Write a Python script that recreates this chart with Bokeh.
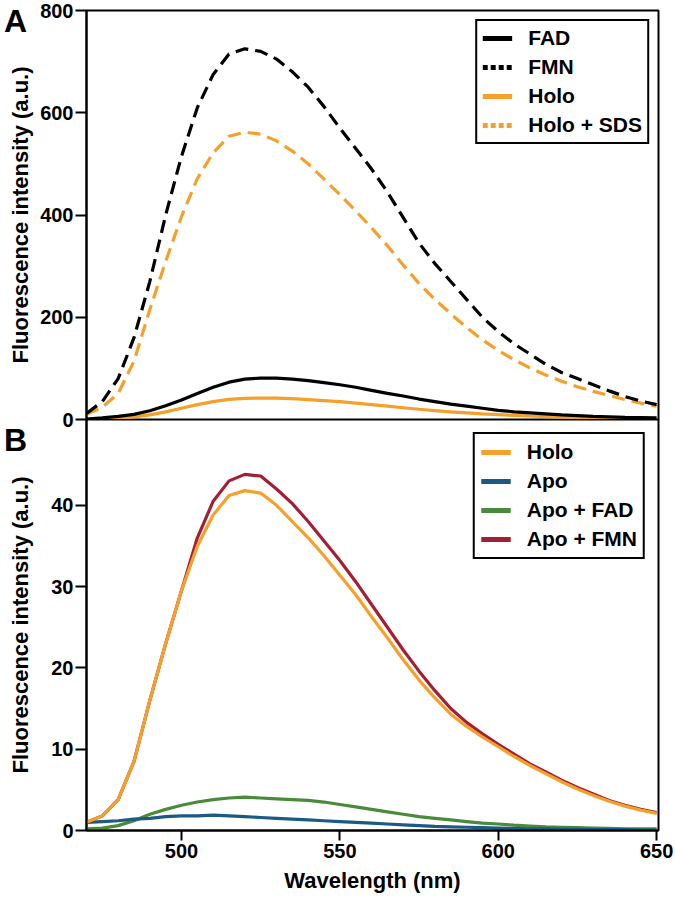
from bokeh.plotting import figure
from bokeh.models import Range1d, FixedTicker, Legend, LegendItem, Div
from bokeh.layouts import column
from bokeh.embed import file_html
from bokeh.resources import INLINE

wavelength = [470, 475, 480, 485, 490, 495, 500, 505, 510, 515, 520, 525, 530, 535, 540,
              545, 550, 555, 560, 565, 570, 575, 580, 585, 590, 595, 600, 605, 610, 615,
              620, 625, 630, 635, 640, 645, 650]

# Panel A
fad_a = [1, 3, 6, 10, 17, 27, 38, 51, 63, 73, 79, 81, 81, 79, 76, 72, 68, 63, 57, 51,
         46, 40, 35, 30, 26, 22, 18, 15, 13, 11, 9, 7.5, 6, 5, 4, 3.5, 3]
fmn_a = [12, 35, 80, 160, 270, 400, 515, 610, 675, 715, 725, 720, 705, 680, 650, 612,
         570, 530, 490, 445, 395, 345, 305, 270, 235, 200, 172, 148, 128, 108, 92, 80,
         68, 56, 45, 36, 29]
holo_a = [0.5, 1.5, 3, 5, 9, 15, 22, 29, 35, 39.5, 41.5, 42, 42, 41, 39, 37, 35, 32, 29,
          26, 23, 20, 17.5, 15, 13, 11, 9.5, 8, 6.8, 5.8, 4.8, 4, 3.3, 2.7, 2.2, 1.8, 1.4]
holo_sds_a = [10, 24, 51, 114, 215, 309, 397, 471, 522, 554, 562, 558, 545, 525, 500,
              470, 440, 408, 375, 340, 302, 266, 235, 207, 180, 156, 135, 117, 101, 87,
              75, 64, 55, 47, 39, 32, 26]

# Panel B
holo_b = [1.0, 1.8, 3.8, 8.5, 16, 23, 29.5, 35, 38.8, 41.2, 41.8, 41.5, 40, 38, 36, 33.8,
          31.4, 29, 26.3, 23.7, 21, 18.5, 16.3, 14.3, 12.8, 11.5, 10.3, 9.1, 8.0, 7.0,
          6.0, 5.1, 4.3, 3.6, 3.0, 2.5, 2.1]
apo_b = [1.0, 1.1, 1.2, 1.4, 1.5, 1.7, 1.8, 1.8, 1.9, 1.8, 1.7, 1.6, 1.5, 1.4, 1.3, 1.2,
         1.1, 1.0, 0.9, 0.8, 0.7, 0.6, 0.5, 0.45, 0.4, 0.35, 0.3, 0.25, 0.2, 0.2, 0.15,
         0.15, 0.1, 0.1, 0.1, 0.05, 0.05]
apo_fad_b = [0.2, 0.3, 0.6, 1.2, 2.0, 2.6, 3.1, 3.5, 3.8, 4.0, 4.1, 4.0, 3.9, 3.8, 3.7,
             3.5, 3.2, 2.9, 2.6, 2.3, 2.0, 1.7, 1.5, 1.3, 1.1, 0.9, 0.8, 0.65, 0.55, 0.45,
             0.4, 0.35, 0.3, 0.25, 0.2, 0.2, 0.2]
apo_fmn_b = [1.0, 1.8, 3.8, 8.5, 16, 23, 29.5, 36, 40.5, 43, 43.8, 43.6, 42, 40.2, 38,
             35.6, 33.2, 30.6, 27.8, 25, 22.2, 19.6, 17.2, 15, 13.3, 11.9, 10.6, 9.4, 8.2,
             7.2, 6.2, 5.3, 4.5, 3.7, 3.1, 2.6, 2.2]

ticks_a = [0, 200, 400, 600, 800]
ticks_b = [0, 10, 20, 30, 40]
ticks_x = [500, 550, 600, 650]

labels_a = ["FAD", "FMN", "Holo", "Holo + SDS"]
labels_b = ["Holo", "Apo", "Apo + FAD", "Apo + FMN"]
panel_tags = ["A", "B"]

BLACK = "#000000"
ORANGE = "#F5A02A"
BLUE = "#1C5A84"
GREEN = "#4A8B3B"
RED = "#A21F35"
FONT = "Liberation Sans"
XR = (470, 650.6)
LW = 3.2


def style(p, yticks, standoff):
    p.grid.visible = False
    p.outline_line_color = BLACK
    p.outline_line_width = 2
    p.outline_line_alpha = 1
    for ax in p.yaxis:
        ax.ticker = FixedTicker(ticks=yticks)
        ax.major_tick_out = 11
        ax.major_tick_in = 0
        ax.minor_tick_line_color = None
        ax.axis_line_width = 2
        ax.major_tick_line_width = 2
        ax.major_label_text_font = FONT
        ax.major_label_text_font_style = "bold"
        ax.major_label_text_font_size = "20px"
        ax.major_label_text_color = BLACK
        ax.major_label_standoff = 2
        ax.axis_label = "Fluorescence intensity (a.u.)"
        ax.axis_label_text_font = FONT
        ax.axis_label_text_font_style = "bold"
        ax.axis_label_text_font_size = "22px"
        ax.axis_label_text_color = BLACK
        ax.axis_label_standoff = standoff


def make_legend(p, entries, margin, padding):
    p.extra_y_ranges = {"hidden": Range1d(1e6, 2e6)}
    items = []
    for lab, vals, col, dash in entries:
        r = p.line(wavelength, vals, y_range_name="hidden", line_color=col,
                   line_width=5, line_dash=dash)
        items.append(LegendItem(label=lab, renderers=[r]))
    leg = Legend(items=items, location="top_right")
    leg.label_text_font = FONT
    leg.label_text_font_style = "bold"
    leg.label_text_font_size = "21px"
    leg.label_text_color = BLACK
    leg.label_standoff = 16
    leg.glyph_width = 30
    leg.glyph_height = 20
    leg.label_height = 22
    leg.spacing = 5
    leg.padding = padding
    leg.margin = margin
    leg.border_line_color = BLACK
    leg.border_line_width = 2
    leg.border_line_alpha = 1
    leg.background_fill_alpha = 1
    p.add_layout(leg)


def tag(text, top):
    return Div(text=text, styles={"position": "absolute", "left": "-1px", "top": f"{top}px",
                                  "font-family": FONT, "font-weight": "bold",
                                  "font-size": "32px", "line-height": "1",
                                  "color": "black", "z-index": "5"})


pa = figure(width=673, height=433, x_range=Range1d(*XR), y_range=Range1d(0, 800),
            output_backend="svg", toolbar_location=None,
            min_border_left=86, min_border_right=15, min_border_top=10, min_border_bottom=14)
pa.xaxis.visible = False
style(pa, ticks_a, 4)
pa.line(wavelength, holo_a, line_color=ORANGE, line_width=LW)
pa.line(wavelength, fad_a, line_color=BLACK, line_width=LW)
pa.line(wavelength, holo_sds_a, line_color=ORANGE, line_width=LW, line_dash="13 7")
pa.line(wavelength, fmn_a, line_color=BLACK, line_width=LW, line_dash="13 7")
make_legend(pa, [(labels_a[0], fad_a, BLACK, "solid"),
                 (labels_a[1], fmn_a, BLACK, "5 3"),
                 (labels_a[2], holo_a, ORANGE, "solid"),
                 (labels_a[3], holo_sds_a, ORANGE, "5 3")], 9, 5)

pb = figure(width=673, height=479, x_range=Range1d(*XR), y_range=Range1d(0, 50.55),
            output_backend="svg", toolbar_location=None,
            min_border_left=86, min_border_right=15, min_border_top=0, min_border_bottom=68,
            styles={"margin-top": "-14px"})
pb.border_fill_alpha = 0
style(pb, ticks_b, 15)
xa = pb.xaxis[0]
xa.ticker = FixedTicker(ticks=ticks_x)
xa.major_tick_out = 10
xa.major_tick_in = 0
xa.minor_tick_line_color = None
xa.axis_line_width = 2
xa.major_tick_line_width = 2
xa.major_label_text_font = FONT
xa.major_label_text_font_style = "bold"
xa.major_label_text_font_size = "20px"
xa.major_label_text_color = BLACK
xa.major_label_standoff = 3
xa.axis_label = "Wavelength (nm)"
xa.axis_label_text_font = FONT
xa.axis_label_text_font_style = "bold"
xa.axis_label_text_font_size = "22px"
xa.axis_label_text_color = BLACK
xa.axis_label_standoff = 7

pb.line(wavelength, apo_fad_b, line_color=GREEN, line_width=LW)
pb.line(wavelength, apo_b, line_color=BLUE, line_width=LW)
pb.line(wavelength, apo_fmn_b, line_color=RED, line_width=LW)
pb.line(wavelength, holo_b, line_color=ORANGE, line_width=LW)
make_legend(pb, [(labels_b[0], holo_b, ORANGE, "solid"),
                 (labels_b[1], apo_b, BLUE, "solid"),
                 (labels_b[2], apo_fad_b, GREEN, "solid"),
                 (labels_b[3], apo_fmn_b, RED, "solid")], 13, 6)

layout = column(pa, pb, tag(panel_tags[0], 0), tag(panel_tags[1], 419), spacing=0)
open("out.html", "w").write(file_html(layout, INLINE))
